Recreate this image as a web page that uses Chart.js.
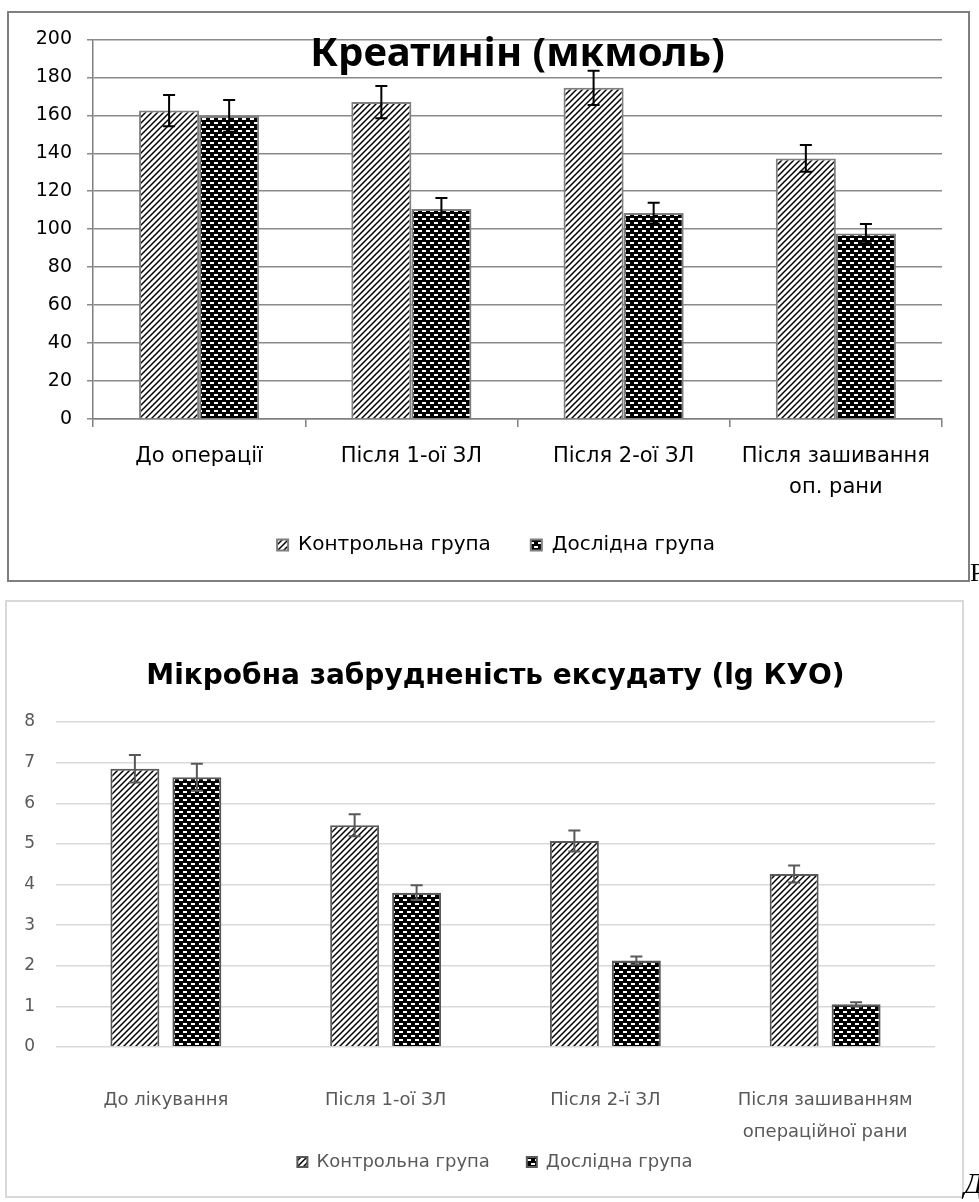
<!DOCTYPE html>
<html>
<head>
<meta charset="utf-8">
<script src="https://cdn.jsdelivr.net/npm/chart.js@4"></script>
<style>
  html, body { margin: 0; padding: 0; background: #fff; width: 979px; height: 1202px; overflow: hidden; position: relative; }
  .box { position: absolute; box-sizing: border-box; background: #fff; }
  #box1 { left: 7px; top: 11px; width: 963px; height: 571px; border: 2px solid #7f7f7f; }
  #box2 { left: 5px; top: 600px; width: 959px; height: 598px; border: 2px solid #d9d9d9; }
  canvas { position: absolute; }
  #c1 { left: 17px; top: 13px; }
  #c2 { left: 10px; top: 602px; }
  .stray { position: absolute; font-family: "Liberation Serif", "DejaVu Serif", serif; color: #000; white-space: nowrap; }
</style>
</head>
<body>
<div class="box" id="box1"></div>
<div class="box" id="box2"></div>
<canvas id="c1" width="958" height="568"></canvas>
<canvas id="c2" width="970" height="594"></canvas>
<div class="stray" style="left:970px; top:558px; font-size:26px;">Р</div>
<div class="stray" style="left:964px; top:1166px; font-size:30px; font-style:italic;">Д</div>
<script>
// ---------- Data ----------
const creatCategories = ['До операції', 'Після 1-ої ЗЛ', 'Після 2-ої ЗЛ', ['Після зашивання', 'оп. рани']];
const creatControl    = [162.5, 167.0, 174.5, 137.3];
const creatControlErr = [8.2, 8.5, 9.0, 7.0];
const creatExp        = [159.7, 110.7, 108.5, 97.7];
const creatExpErr     = [8.4, 5.8, 5.5, 5.1];
const creatTicks      = {min: 0, max: 200, step: 20};

const microCategories = ['До лікування', 'Після 1-ої ЗЛ', 'Після 2-ї ЗЛ', ['Після зашиванням', 'операційної рани']];
const microControl    = [6.85, 5.46, 5.07, 4.26];
const microControlErr = [0.34, 0.27, 0.26, 0.21];
const microExp        = [6.64, 3.80, 2.13, 1.05];
const microExpErr     = [0.33, 0.18, 0.10, 0.05];
const microTicks      = {min: 0, max: 8, step: 1};

const seriesNames = ['Контрольна група', 'Дослідна група'];
const title1 = 'Креатинін (мкмоль)';
const title2 = 'Мікробна забрудненість ексудату (lg КУО)';

// ---------- Patterns ----------
function hatchPattern() {
  const s = 6;
  const c = document.createElement('canvas'); c.width = s; c.height = s;
  const g = c.getContext('2d');
  g.fillStyle = '#fff'; g.fillRect(0, 0, s, s);
  g.strokeStyle = '#000'; g.lineWidth = 1.5;
  g.beginPath();
  g.moveTo(-1, s + 1); g.lineTo(s + 1, -1);
  g.moveTo(-1, 1); g.lineTo(1, -1);
  g.moveTo(s - 1, s + 1); g.lineTo(s + 1, s - 1);
  g.stroke();
  return g.createPattern(c, 'repeat');
}
function brickPattern() {
  const w = 8, h = 8;
  const c = document.createElement('canvas'); c.width = w; c.height = h;
  const g = c.getContext('2d');
  g.fillStyle = '#000'; g.fillRect(0, 0, w, h);
  g.fillStyle = '#fff';
  g.fillRect(1, 1, 4, 2);
  g.fillRect(5, 5, 3, 2); g.fillRect(0, 5, 1, 2);
  return g.createPattern(c, 'repeat');
}

// ---------- Error bar plugin ----------
const errorBars = {
  id: 'errorBars',
  afterDatasetsDraw(chart, args, opts) {
    const ctx = chart.ctx;
    const yScale = chart.scales.y;
    ctx.save();
    ctx.strokeStyle = opts.color;
    ctx.lineWidth = opts.width;
    chart.data.datasets.forEach((ds, di) => {
      const meta = chart.getDatasetMeta(di);
      meta.data.forEach((bar, i) => {
        const v = ds.data[i], e = ds.errors[i];
        const yt = yScale.getPixelForValue(v + e);
        const yb = yScale.getPixelForValue(v - e);
        const x = bar.x, cw = opts.cap / 2;
        ctx.beginPath();
        ctx.moveTo(x, yt); ctx.lineTo(x, yb);
        ctx.moveTo(x - cw, yt); ctx.lineTo(x + cw, yt);
        ctx.moveTo(x - cw, yb); ctx.lineTo(x + cw, yb);
        ctx.stroke();
      });
    });
    ctx.restore();
  }
};

const FONT = "'DejaVu Sans', 'Noto Sans', sans-serif";
const TFONT = "'Noto Sans', 'Open Sans', sans-serif";

function spacer(w) {
  return { type: 'linear', position: 'right', display: true,
    grid: { display: false, drawTicks: false }, border: { display: false },
    ticks: { display: false }, afterFit(s) { s.width = w; } };
}
// empty legend title with negative height: lets the legend row sit closer to the axis labels
function legendLift(t) {
  return { display: true, text: '', font: { size: 1, lineHeight: 1 }, padding: { top: -(t + 1), bottom: 0 } };
}

// ---------- Chart 1 ----------
new Chart(document.getElementById('c1'), {
  type: 'bar',
  data: {
    labels: creatCategories,
    datasets: [
      { label: seriesNames[0], data: creatControl, errors: creatControlErr,
        backgroundColor: hatchPattern(), borderColor: '#7f7f7f', borderWidth: 2,
        categoryPercentage: 0.566, barPercentage: 1.0 },
      { label: seriesNames[1], data: creatExp, errors: creatExpErr,
        backgroundColor: brickPattern(), borderColor: '#7f7f7f', borderWidth: 2,
        categoryPercentage: 0.566, barPercentage: 1.0 }
    ]
  },
  plugins: [errorBars],
  options: {
    responsive: false, animation: false,
    layout: { padding: { left: 0, right: 0, top: 0, bottom: 16 } },
    plugins: {
      errorBars: { color: '#000', width: 2, cap: 12 },
      title: { display: true, text: title1, color: '#000', fullSize: false,
        font: { family: TFONT, size: 40, weight: 'bold', lineHeight: 1.2 },
        padding: { top: 14, bottom: -39 } },
      legend: { position: 'bottom', title: legendLift(10),
        labels: { color: '#000', font: { family: FONT, size: 20 }, boxWidth: 11, boxHeight: 11, padding: 40 } },
      tooltip: { enabled: false }
    },
    scales: {
      x: {
        grid: { display: true, drawOnChartArea: false, drawTicks: true, tickLength: 8, color: '#7f7f7f', lineWidth: 1.5, offset: true },
        border: { display: true, color: '#7f7f7f', width: 1.5 },
        ticks: { color: '#000', font: { family: FONT, size: 21, lineHeight: 1.49 }, padding: 14, maxRotation: 0, autoSkip: false },
        afterFit(s) { s.height = 86; }
      },
      y: {
        min: creatTicks.min, max: creatTicks.max,
        grid: { color: '#8a8a8a', lineWidth: 1.5, drawTicks: true, tickLength: 6 },
        border: { display: true, color: '#7f7f7f', width: 1.5 },
        ticks: { stepSize: creatTicks.step, color: '#000', font: { family: FONT, size: 19 }, padding: 15 },
        afterFit(s) { s.width = 76; }
      },
      yPad: spacer(33)
    }
  }
});

// ---------- Chart 2 ----------
new Chart(document.getElementById('c2'), {
  type: 'bar',
  data: {
    labels: microCategories,
    datasets: [
      { label: seriesNames[0], data: microControl, errors: microControlErr,
        backgroundColor: hatchPattern(), borderColor: '#595959', borderWidth: 2,
        categoryPercentage: 0.564, barPercentage: 0.79 },
      { label: seriesNames[1], data: microExp, errors: microExpErr,
        backgroundColor: brickPattern(), borderColor: '#595959', borderWidth: 2,
        categoryPercentage: 0.564, barPercentage: 0.79 }
    ]
  },
  plugins: [errorBars],
  options: {
    responsive: false, animation: false,
    layout: { padding: { left: 0, right: 0, top: 0, bottom: 15 } },
    plugins: {
      errorBars: { color: '#595959', width: 2, cap: 12 },
      title: { display: true, text: title2, color: '#000', fullSize: false,
        font: { family: FONT, size: 28, weight: 'bold', lineHeight: 1.2 },
        padding: { top: 58, bottom: 28.4 } },
      legend: { position: 'bottom', title: legendLift(30),
        labels: { color: '#595959', font: { family: FONT, size: 18 }, boxWidth: 10, boxHeight: 10, padding: 37 } },
      tooltip: { enabled: false }
    },
    scales: {
      x: {
        grid: { display: false, drawTicks: false },
        border: { display: false },
        ticks: { color: '#595959', font: { family: FONT, size: 18, lineHeight: 1.78 }, padding: 37, maxRotation: 0, autoSkip: false },
        afterFit(s) { s.height = 99; }
      },
      y: {
        min: microTicks.min, max: microTicks.max,
        grid: { color: '#d9d9d9', lineWidth: 1.5, drawTicks: false },
        border: { display: false },
        ticks: { stepSize: microTicks.step, color: '#595959', font: { family: FONT, size: 17 }, padding: 21 },
        afterFit(s) { s.width = 46; }
      },
      yPad: spacer(45)
    }
  }
});
</script>
</body>
</html>
